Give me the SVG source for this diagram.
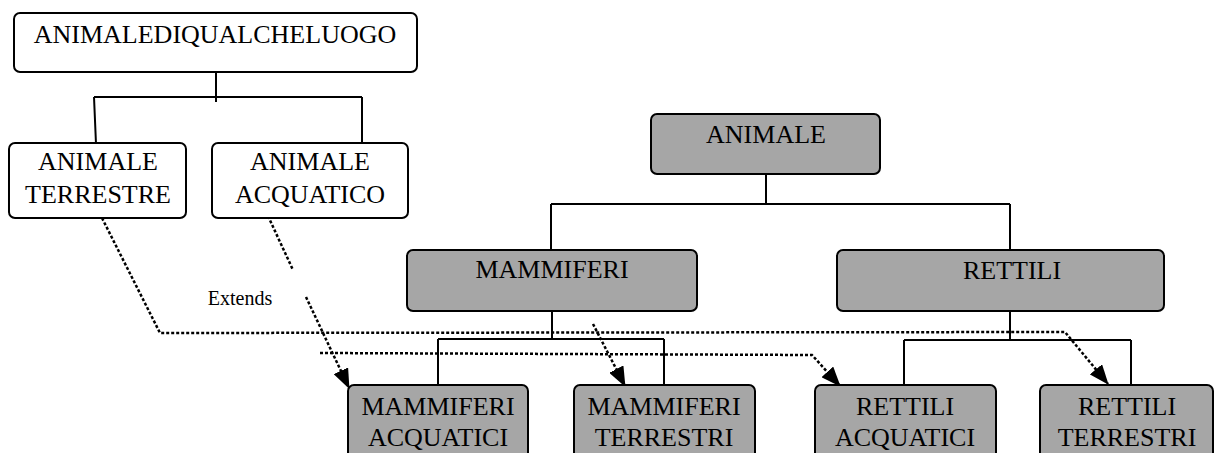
<svg xmlns="http://www.w3.org/2000/svg" width="1214" height="453" viewBox="0 0 1214 453">
<style>
.b{fill:#fff;stroke:#000;stroke-width:2}
.g{fill:#a6a6a6;stroke:#000;stroke-width:2}
.t{font-family:"Liberation Serif","Times New Roman",serif;font-size:26px;fill:#000;text-anchor:middle}
.s{font-family:"Liberation Serif","Times New Roman",serif;font-size:20px;fill:#000;text-anchor:middle}
.c{fill:none;stroke:#000;stroke-width:2}
.d{fill:none;stroke:#000;stroke-width:2.5;stroke-dasharray:3 2}
</style>
<defs>
<marker id="ar" markerUnits="userSpaceOnUse" markerWidth="20" markerHeight="16" refX="19" refY="8" orient="auto">
<path d="M0,0 L20,8 L0,16 z" fill="#000"/>
</marker>
</defs>
<g id="connectors">
<path class="c" d="M216,72 V102 M94,97 H362 M94,97 L96,144 M362,97 V144"/>
<path class="c" d="M766,174 V204 M551,204 H1010 M551,204 V251 M1010,204 V251"/>
<path class="c" d="M552,311 V339 M438,339 H664 M438,339 V386 M664,339 V386"/>
<path class="c" d="M1010,311 V340 M904,340 H1131 M904,340 V386 M1131,340 V386"/>
<path class="d" d="M102,218 L160,333 L1065,332 L1108,384" marker-end="url(#ar)"/>
<path class="d" d="M268,216 L293,270"/>
<path class="d" d="M306,297 L349,388" marker-end="url(#ar)"/>
<path class="d" d="M320,353 L812,355 L840,386" marker-end="url(#ar)"/>
<path class="d" d="M593,324 L625,386" marker-end="url(#ar)"/>
<text class="s" x="240" y="305">Extends</text>
</g>
<g id="n-animalediqualcheluogo">
<rect class="b" x="14" y="13" width="403" height="59" rx="6"/>
<text class="t" x="215" y="43">ANIMALEDIQUALCHELUOGO</text>
</g>
<g id="n-animale-terrestre">
<rect class="b" x="9" y="143" width="177" height="75" rx="6"/>
<text class="t" x="98" y="170">ANIMALE</text>
<text class="t" x="98" y="203">TERRESTRE</text>
</g>
<g id="n-animale-acquatico">
<rect class="b" x="212" y="143" width="196" height="75" rx="6"/>
<text class="t" x="310" y="170">ANIMALE</text>
<text class="t" x="310" y="203">ACQUATICO</text>
</g>
<g id="n-animale">
<rect class="g" x="651" y="114" width="229" height="60" rx="6"/>
<text class="t" x="766" y="143">ANIMALE</text>
</g>
<g id="n-mammiferi">
<rect class="g" x="407" y="250" width="290" height="61" rx="6"/>
<text class="t" x="552" y="278">MAMMIFERI</text>
</g>
<g id="n-rettili">
<rect class="g" x="837" y="250" width="327" height="61" rx="6"/>
<text class="t" x="1012" y="279">RETTILI</text>
</g>
<g id="n-mammiferi-acquatici">
<rect class="g" x="348" y="385" width="180" height="80" rx="6"/>
<text class="t" x="438" y="415">MAMMIFERI</text>
<text class="t" x="438" y="446">ACQUATICI</text>
</g>
<g id="n-mammiferi-terrestri">
<rect class="g" x="574" y="385" width="181" height="80" rx="6"/>
<text class="t" x="664" y="415">MAMMIFERI</text>
<text class="t" x="664" y="446">TERRESTRI</text>
</g>
<g id="n-rettili-acquatici">
<rect class="g" x="815" y="385" width="181" height="80" rx="6"/>
<text class="t" x="905" y="415">RETTILI</text>
<text class="t" x="905" y="446">ACQUATICI</text>
</g>
<g id="n-rettili-terrestri">
<rect class="g" x="1040" y="385" width="173" height="80" rx="6"/>
<text class="t" x="1127" y="415">RETTILI</text>
<text class="t" x="1127" y="446">TERRESTRI</text>
</g>
</svg>
